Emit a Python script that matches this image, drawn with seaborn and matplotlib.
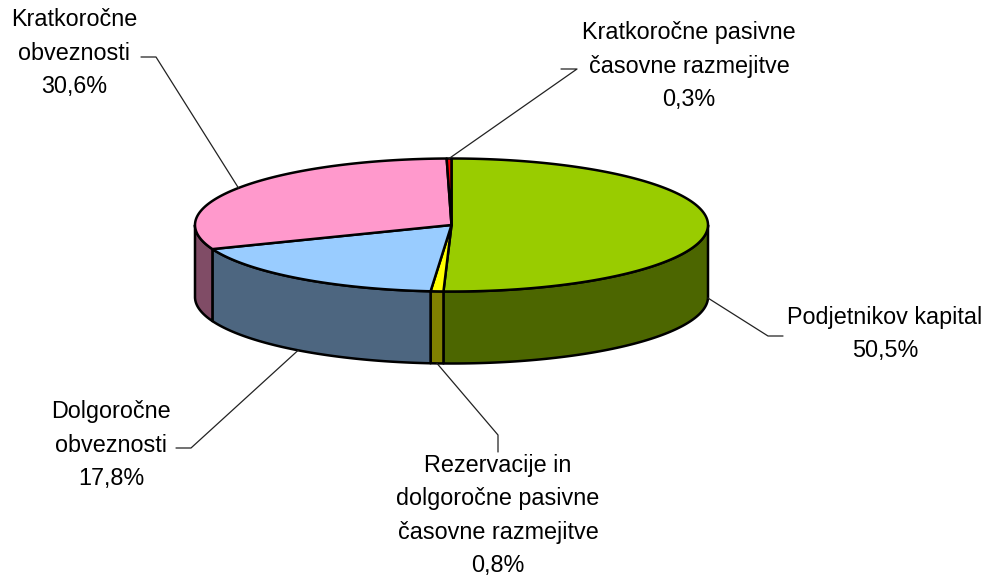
import numpy as np
import matplotlib
matplotlib.use('Agg')
import matplotlib.pyplot as plt
import seaborn as sns

sns.set_style("white")
plt.rcParams['font.family'] = ['Liberation Sans', 'DejaVu Sans']

# data (clockwise from 12 o'clock)
categories = ['Podjetnikov kapital',
              'Rezervacije in\ndolgoročne pasivne\nčasovne razmejitve',
              'Dolgoročne\nobveznosti',
              'Kratkoročne\nobveznosti',
              'Kratkoročne pasivne\nčasovne razmejitve']
shares = [50.5, 0.8, 17.8, 30.6, 0.3]
top_colors = ['#99CC00', '#FFFF00', '#99CCFF', '#FF99CC', '#FF0000']
side_colors = ['#4C6600', '#808000', '#4D6680', '#804C66', '#800000']

# pie geometry in pixels
cx, cy = 451.5, 225.0
rx, ry = 256.5, 66.5
depth = 72.0


def edge(theta, drop=0.0):
    t = np.radians(theta)
    return cx + rx * np.sin(t), cy - ry * np.cos(t) + drop


# label layout: baseline of last line, elbow point, end of short segment
label_pos = [(885, 357), (498, 572), (111, 485), (74, 93), (689, 106)]
elbows = [((768, 336), (783, 336)),
          ((498, 435), (498, 452)),
          ((191, 448), (176, 448)),
          ((156, 57), (141, 57)),
          ((577, 69), (561, 69))]

fig = plt.figure(figsize=(9.89, 5.76), dpi=100)
ax = fig.add_axes([0, 0, 1, 1])
ax.set_xlim(0, 989)
ax.set_ylim(576, 0)
ax.axis('off')

bounds = np.concatenate([[0], np.cumsum(shares) / 100 * 360])

# side walls (front half only)
for i in range(len(shares)):
    t1, t2 = max(bounds[i], 90), min(bounds[i + 1], 270)
    if t2 <= t1:
        continue
    th = np.linspace(t1, t2, 80)
    xt, yt = edge(th)
    xb, yb = edge(th[::-1], depth)
    ax.fill(np.r_[xt, xb], np.r_[yt, yb], facecolor=side_colors[i],
            edgecolor='black', linewidth=1.8, joinstyle='round', zorder=2)

# top faces
for i in range(len(shares)):
    th = np.linspace(bounds[i], bounds[i + 1], max(int(shares[i] * 4), 4))
    xt, yt = edge(th)
    ax.fill(np.r_[cx, xt], np.r_[cy, yt], facecolor=top_colors[i],
            edgecolor='black', linewidth=1.8, joinstyle='round', zorder=3)

# labels and leader lines
for i, (cat, val) in enumerate(zip(categories, shares)):
    mid = (bounds[i] + bounds[i + 1]) / 2
    front = np.cos(np.radians(mid)) < 0
    px, py = edge(mid, depth if front else 0.0)
    (ex, ey), (fx, fy) = elbows[i]
    ax.plot([px, ex, fx], [py, ey, fy], color='#222222', linewidth=0.9, zorder=4)
    lx, ly = label_pos[i]
    ax.text(lx, ly, f"{cat}\n{val:.1f}%".replace('.', ','), ha='center',
            va='baseline', fontsize=16.8, linespacing=1.58, color='black',
            multialignment='center', zorder=5)

plt.savefig('out.png', dpi=100)
